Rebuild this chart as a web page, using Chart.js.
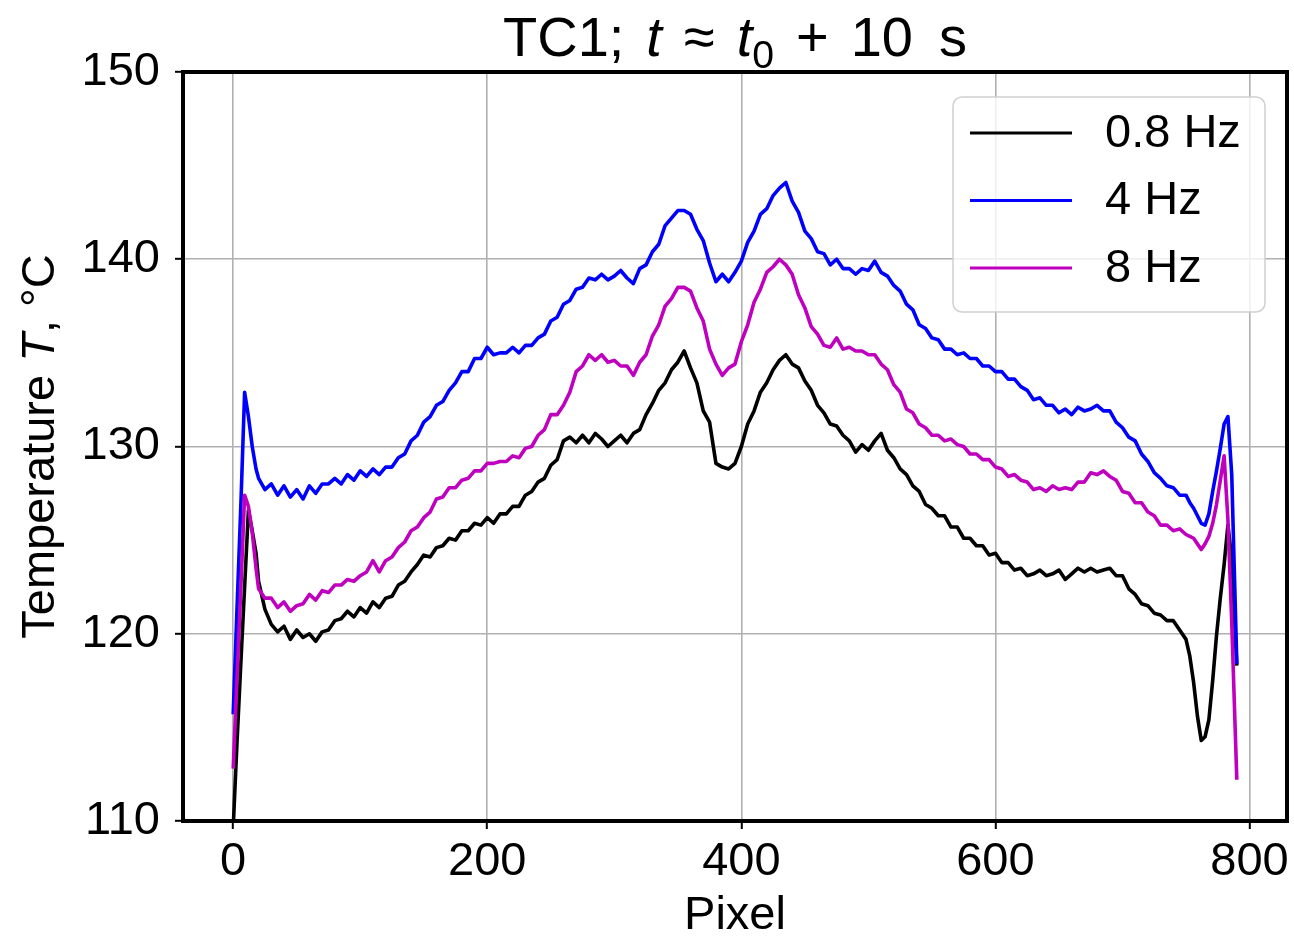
<!DOCTYPE html>
<html>
<head>
<meta charset="utf-8">
<title>TC1 temperature profile</title>
<script src="https://cdn.jsdelivr.net/npm/chart.js@4.4.1/dist/chart.umd.min.js"></script>
<style>
  html, body { margin: 0; padding: 0; background: #fff; }
  #tcChart { display: block; }
</style>
</head>
<body>
<canvas id="tcChart" width="1294" height="937"></canvas>
<script>
// pixel positions along the line profile
const pixels = [
    0, 3, 6, 9, 12, 15, 18,
    20, 25, 30, 35, 40, 45, 50, 55, 60, 65,
    70, 75, 80, 85, 90, 95, 100, 105, 110, 115,
    120, 125, 130, 135, 140, 145, 150, 155, 160, 165,
    170, 175, 180, 185, 190, 195, 200, 205, 210, 215,
    220, 225, 230, 235, 240, 245, 250, 255, 260, 265,
    270, 275, 280, 285, 290, 295, 300, 305, 310, 315,
    320, 325, 330, 335, 340, 345, 350, 355, 360, 365,
    370, 375, 380, 385, 390, 395, 400, 405, 410, 415,
    420, 425, 430, 435, 440, 445, 450, 455, 460, 465,
    470, 475, 480, 485, 490, 495, 500, 505, 510, 515,
    520, 525, 530, 535, 540, 545, 550, 555, 560, 565,
    570, 575, 580, 585, 590, 595, 600, 605, 610, 615,
    620, 625, 630, 635, 640, 645, 650, 655, 660, 665,
    670, 675, 680, 685, 690, 695, 700, 705, 710, 715,
    720, 725, 730, 735, 740, 745, 750,
    753, 756, 759, 762, 765, 768, 771, 774, 777, 780, 783, 786, 790
];

const temp08Hz = [
    109.6, 114.2, 118.4, 122.5, 126.6, 125.5, 124.3,
    122.8, 121.3, 120.5, 120.1, 120.4, 119.7, 120.2, 119.8, 120.0, 119.6,
    120.1, 120.2, 120.7, 120.8, 121.2, 120.9, 121.4, 121.1, 121.7, 121.4,
    121.9, 122.0, 122.6, 122.8, 123.3, 123.7, 124.2, 124.1, 124.6, 124.7,
    125.1, 125.0, 125.5, 125.5, 125.9, 125.8, 126.2, 125.9, 126.4, 126.4,
    126.8, 126.8, 127.4, 127.6, 128.1, 128.3, 129.0, 129.3, 130.3, 130.5,
    130.2, 130.6, 130.2, 130.7, 130.4, 130.0, 130.3, 130.6, 130.2, 130.7,
    130.9, 131.7, 132.3, 133.0, 133.4, 134.1, 134.5, 135.1, 134.2, 133.4,
    131.9, 131.3, 129.1, 128.9, 128.8, 129.1, 130.0, 131.2, 131.9, 132.9,
    133.4, 134.1, 134.6, 134.9, 134.4, 134.2, 133.5, 133.0, 132.2, 131.8,
    131.2, 131.1, 130.6, 130.3, 129.7, 130.1, 129.8, 130.3, 130.7, 129.8,
    129.4, 128.8, 128.5, 127.9, 127.6, 126.9, 126.7, 126.3, 126.3, 125.7,
    125.7, 125.1, 125.1, 124.7, 124.7, 124.2, 124.3, 123.8, 123.8, 123.4,
    123.5, 123.1, 123.2, 123.4, 123.1, 123.2, 123.4, 122.9, 123.2, 123.5,
    123.3, 123.5, 123.3, 123.4, 123.5, 123.1, 123.1, 122.4, 122.1, 121.6,
    121.5, 121.1, 121.0, 120.7, 120.7, 120.2, 119.7,
    118.8, 117.4, 115.6, 114.3, 114.5, 115.4, 117.5, 119.9, 121.9, 123.7, 125.8, 124.0, 118.3
];

const temp4Hz = [
    115.7, 121.3, 126.8, 132.9, 131.6, 130.0, 128.8,
    128.3, 127.7, 128.0, 127.4, 127.9, 127.3, 127.7, 127.2, 127.9, 127.5,
    128.0, 128.0, 128.3, 128.0, 128.5, 128.2, 128.7, 128.4, 128.8, 128.5,
    128.9, 128.9, 129.4, 129.6, 130.3, 130.6, 131.3, 131.6, 132.2, 132.4,
    133.0, 133.4, 134.0, 134.0, 134.7, 134.7, 135.3, 134.9, 135.0, 135.0,
    135.3, 135.0, 135.4, 135.4, 135.8, 136.0, 136.7, 136.9, 137.6, 137.8,
    138.4, 138.5, 139.0, 138.9, 139.2, 138.9, 139.1, 139.4, 139.0, 138.7,
    139.5, 139.7, 140.4, 140.8, 141.8, 142.2, 142.6, 142.6, 142.4, 141.6,
    141.0, 139.8, 138.8, 139.2, 138.8, 139.3, 139.9, 140.9, 141.5, 142.4,
    142.7, 143.4, 143.8, 144.1, 143.1, 142.5, 141.5, 141.1, 140.4, 140.3,
    139.7, 140.0, 139.5, 139.5, 139.2, 139.5, 139.4, 139.9, 139.3, 139.1,
    138.6, 138.3, 137.6, 137.3, 136.5, 136.3, 135.8, 135.7, 135.2, 135.2,
    134.9, 135.0, 134.7, 134.7, 134.3, 134.3, 134.0, 134.0, 133.6, 133.6,
    133.2, 133.0, 132.5, 132.6, 132.2, 132.2, 131.8, 132.0, 131.7, 132.1,
    131.9, 132.0, 132.2, 131.9, 131.9, 131.3, 131.0, 130.5, 130.3, 129.6,
    129.2, 128.6, 128.3, 127.9, 127.8, 127.4, 127.4,
    127.0, 126.7, 126.3, 125.9, 125.8, 126.4, 127.6, 128.7, 129.9, 131.2, 131.6, 128.5, 118.4
];

const temp8Hz = [
    112.8, 117.6, 122.4, 127.4, 126.8, 125.4, 123.5,
    122.4, 121.9, 121.9, 121.4, 121.7, 121.2, 121.5, 121.6, 122.1, 121.8,
    122.3, 122.2, 122.6, 122.6, 122.9, 122.8, 123.1, 123.3, 123.9, 123.3,
    123.9, 124.1, 124.6, 124.9, 125.5, 125.7, 126.2, 126.5, 127.2, 127.3,
    127.8, 127.8, 128.2, 128.3, 128.7, 128.7, 129.1, 129.1, 129.2, 129.2,
    129.5, 129.4, 129.9, 130.0, 130.6, 130.9, 131.7, 131.7, 132.2, 132.9,
    134.0, 134.3, 134.9, 134.6, 134.9, 134.5, 134.6, 134.3, 134.3, 133.8,
    134.5, 134.9, 135.9, 136.5, 137.5, 137.9, 138.5, 138.5, 138.3, 137.4,
    136.7, 135.2, 134.4, 133.8, 134.2, 134.4, 135.6, 136.5, 137.7, 138.4,
    139.3, 139.6, 140.0, 139.7, 139.2, 138.1, 137.4, 136.4, 136.0, 135.4,
    135.3, 135.8, 135.2, 135.3, 135.1, 135.1, 134.9, 134.9, 134.4, 134.1,
    133.3, 132.9, 132.0, 131.8, 131.2, 131.0, 130.6, 130.6, 130.3, 130.4,
    130.1, 130.0, 129.6, 129.6, 129.3, 129.3, 128.9, 128.8, 128.4, 128.5,
    128.2, 128.1, 127.7, 127.8, 127.6, 127.9, 127.7, 127.8, 127.7, 128.1,
    128.1, 128.6, 128.5, 128.7, 128.4, 128.2, 127.6, 127.5, 127.0, 127.0,
    126.5, 126.3, 125.8, 125.8, 125.5, 125.6, 125.3,
    125.2, 125.1, 124.8, 124.5, 124.8, 125.2, 125.9, 126.9, 128.2, 129.5, 126.1, 120.6, 112.2
];

const seriesLabels = ['0.8 Hz', '4 Hz', '8 Hz'];
const seriesColors = ['#000000', '#0000ff', '#bf00bf'];
const xTicks = [0, 200, 400, 600, 800];
const yTicks = [110, 120, 130, 140, 150];

const FONT = '"Liberation Sans", Arial, sans-serif';

console.log('lengths', pixels.length, temp08Hz.length, temp4Hz.length, temp8Hz.length);

function toPoints(values) {
    return values.map((v, i) => ({ x: pixels[i], y: v }));
}

// draws a list of text runs (normal / italic / subscript) one after another
function drawRuns(ctx, runs, size, startX, baseY) {
    let x = startX;
    runs.forEach(r => {
        const s = r.sub ? size * 0.7 : size;
        ctx.font = (r.italic ? 'italic ' : '') + s + 'px ' + FONT;
        ctx.fillText(r.text, x, baseY + (r.sub ? size * 0.22 : 0));
        x += ctx.measureText(r.text).width + (r.gap || 0);
    });
    return x - startX;
}

function runsWidth(ctx, runs, size) {
    let w = 0;
    runs.forEach(r => {
        const s = r.sub ? size * 0.7 : size;
        ctx.font = (r.italic ? 'italic ' : '') + s + 'px ' + FONT;
        w += ctx.measureText(r.text).width + (r.gap || 0);
    });
    return w;
}

const decorPlugin = {
    id: 'decor',
    afterDraw(chart) {
        const ctx = chart.ctx;
        const a = chart.chartArea;
        ctx.save();

        // axes frame
        ctx.strokeStyle = '#000';
        ctx.lineWidth = 4;
        ctx.lineJoin = 'miter';
        ctx.strokeRect(a.left, a.top, a.right - a.left, a.bottom - a.top);

        // legend
        const lx = 953, ly = 97, lw = 312, lh = 215;
        ctx.beginPath();
        ctx.roundRect(lx, ly, lw, lh, 9);
        ctx.fillStyle = 'rgba(255,255,255,0.8)';
        ctx.fill();
        ctx.strokeStyle = '#d0d0d0';
        ctx.lineWidth = 1.5;
        ctx.stroke();
        ctx.textBaseline = 'middle';
        ctx.textAlign = 'left';
        ctx.font = '47px ' + FONT;
        seriesLabels.forEach((lab, i) => {
            const y = 133 + i * 67.5;
            ctx.beginPath();
            ctx.moveTo(970, y);
            ctx.lineTo(1072, y);
            ctx.strokeStyle = seriesColors[i];
            ctx.lineWidth = 3;
            ctx.stroke();
            ctx.fillStyle = '#000';
            ctx.fillText(lab, 1105, y + 1);
        });

        // title
        ctx.fillStyle = '#000';
        ctx.textBaseline = 'alphabetic';
        const titleRuns = [
            { text: 'TC1;', gap: 22 },
            { text: 't', italic: true, gap: 22 },
            { text: '≈', gap: 22 },
            { text: 't', italic: true },
            { text: '0', sub: true, gap: 22 },
            { text: '+', gap: 22 },
            { text: '10', gap: 26 },
            { text: 's' }
        ];
        const tSize = 56;
        const tw = runsWidth(ctx, titleRuns, tSize);
        drawRuns(ctx, titleRuns, tSize, (a.left + a.right) / 2 - tw / 2, 56);

        // x axis label
        ctx.font = '47px ' + FONT;
        ctx.textAlign = 'center';
        ctx.fillText('Pixel', (a.left + a.right) / 2, 929);

        // y axis label, rotated
        ctx.textAlign = 'left';
        const yRuns = [
            { text: 'Temperature ' },
            { text: 'T', italic: true },
            { text: ', °C' }
        ];
        const yw = runsWidth(ctx, yRuns, 47);
        ctx.translate(54, (a.top + a.bottom) / 2);
        ctx.rotate(-Math.PI / 2);
        drawRuns(ctx, yRuns, 47, -yw / 2, 0);

        ctx.restore();
    }
};

function createChart() {
    const ctx = document.getElementById('tcChart').getContext('2d');
    const allSeries = [temp08Hz, temp4Hz, temp8Hz];

    new Chart(ctx, {
        type: 'line',
        data: {
            datasets: allSeries.map((vals, i) => ({
                label: seriesLabels[i],
                data: toPoints(vals),
                borderColor: seriesColors[i],
                backgroundColor: seriesColors[i],
                borderWidth: 3.6,
                borderJoinStyle: 'round',
                pointRadius: 0,
                tension: 0,
                fill: false,
                order: allSeries.length - i   // later series drawn on top
            }))
        },
        options: {
            responsive: false,
            animation: false,
            devicePixelRatio: 1,
            layout: {
                padding: { top: 72, right: 7, left: 0, bottom: 0 }
            },
            scales: {
                x: {
                    type: 'linear',
                    min: -39.5,
                    max: 829.5,
                    afterBuildTicks: scale => {
                        scale.ticks = xTicks.map(v => ({ value: v }));
                    },
                    afterFit: scale => { scale.height = 116; },
                    grid: {
                        color: '#b0b0b0',
                        lineWidth: 1.6,
                        tickColor: '#000',
                        tickLength: 8,
                        tickWidth: 2
                    },
                    border: { display: false },
                    ticks: {
                        color: '#000',
                        padding: 5,
                        maxRotation: 0,
                        font: { family: FONT, size: 47 }
                    }
                },
                y: {
                    min: 110,
                    max: 150,
                    afterBuildTicks: scale => {
                        scale.ticks = yTicks.map(v => ({ value: v }));
                    },
                    afterFit: scale => { scale.width = 183; },
                    grid: {
                        color: '#b0b0b0',
                        lineWidth: 1.6,
                        tickColor: '#000',
                        tickLength: 8,
                        tickWidth: 2
                    },
                    border: { display: false },
                    ticks: {
                        color: '#000',
                        padding: 15,
                        font: { family: FONT, size: 47 }
                    }
                }
            },
            plugins: {
                legend: { display: false },
                title: { display: false },
                tooltip: { enabled: false }
            }
        },
        plugins: [decorPlugin]
    });
}

document.addEventListener('DOMContentLoaded', createChart);
</script>
</body>
</html>
